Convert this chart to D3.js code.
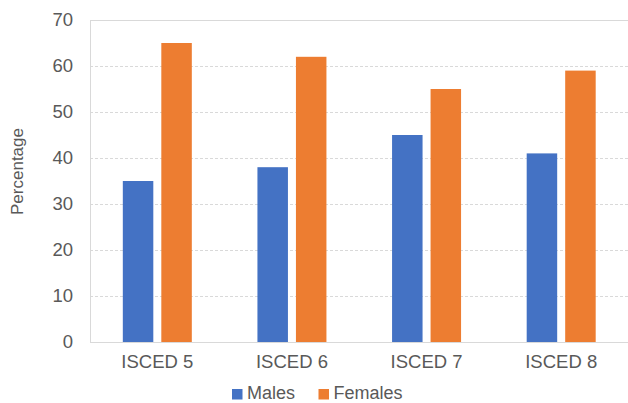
<!DOCTYPE html>
<html>
<head>
<meta charset="utf-8">
<script src="https://cdn.jsdelivr.net/npm/d3@7"></script>
<style>
  html, body { margin: 0; padding: 0; background: #fff; }
  svg { display: block; font-family: "Liberation Sans", Arial, sans-serif; }
</style>
</head>
<body>
<svg id="chart" width="628" height="403"></svg>
<script>
// Share of tertiary graduates by sex and ISCED level
const categories = ["ISCED 5", "ISCED 6", "ISCED 7", "ISCED 8"];
const seriesNames = ["Males", "Females"];
const males = [35, 38, 45, 41];
const females = [65, 62, 55, 59];
const yTicks = [0, 10, 20, 30, 40, 50, 60, 70];
const colors = ["#4472C4", "#ED7D31"];

const seriesValues = [males, females];

const svg = d3.select("#chart");
const plot = { left: 90, right: 628.5, top: 20, bottom: 342 };

const x0 = d3.scaleBand().domain(categories).range([plot.left, plot.right]).padding(0);
const groupWidth = 69;
const x1 = d3.scaleBand().domain(seriesNames).range([0, groupWidth]).paddingInner(0.208).paddingOuter(0);
const y = d3.scaleLinear().domain([0, 70]).range([plot.bottom, plot.top]);

// Horizontal gridlines (dashed), top one solid
svg.append("g")
  .selectAll("line")
  .data(yTicks.filter(d => d > 0))
  .join("line")
  .attr("x1", plot.left)
  .attr("x2", 628)
  .attr("y1", d => Math.round(y(d)) + 0.5)
  .attr("y2", d => Math.round(y(d)) + 0.5)
  .attr("stroke", "#d9d9d9")
  .attr("stroke-width", 1)
  .attr("stroke-dasharray", d => d === 70 ? null : "3,2");

// Y axis
const yAxis = d3.axisLeft(y).tickValues(yTicks).tickSize(0).tickPadding(17);
const gy = svg.append("g").attr("transform", `translate(${plot.left},0)`).call(yAxis);
gy.select(".domain").attr("stroke", "#d9d9d9").attr("d", `M0.5,${plot.top}V${plot.bottom + 0.5}`);
gy.selectAll("text")
  .attr("font-size", "18.5px")
  .attr("fill", "#595959")
  .attr("font-family", "Liberation Sans, Arial, sans-serif");

// Bars
const groups = svg.append("g")
  .selectAll("g")
  .data(categories)
  .join("g")
  .attr("transform", c => `translate(${x0(c) + (x0.bandwidth() - groupWidth) / 2},0)`);

groups.selectAll("rect")
  .data((c, i) => seriesNames.map((s, j) => ({ s, j, v: seriesValues[j][i] })))
  .join("rect")
  .attr("x", d => x1(d.s))
  .attr("width", x1.bandwidth())
  .attr("y", d => y(d.v))
  .attr("height", d => y(0) - y(d.v))
  .attr("fill", d => colors[d.j]);

// X axis
const xAxis = d3.axisBottom(x0).tickSize(0).tickPadding(13);
const gx = svg.append("g").attr("transform", `translate(0,${plot.bottom})`).call(xAxis);
gx.select(".domain").attr("stroke", "#d9d9d9").attr("d", `M${plot.left},0.5H628`);
gx.selectAll("text")
  .attr("font-size", "18.5px")
  .attr("fill", "#595959")
  .attr("font-family", "Liberation Sans, Arial, sans-serif");

// Y axis title
svg.append("text")
  .attr("transform", "translate(23,171.5) rotate(-90)")
  .attr("text-anchor", "middle")
  .attr("font-size", "17px")
  .attr("fill", "#595959")
  .text("Percentage");

// Legend
const legendItems = [
  { name: seriesNames[0], color: colors[0], x: 232 },
  { name: seriesNames[1], color: colors[1], x: 318.5 }
];
const lg = svg.append("g").selectAll("g").data(legendItems).join("g")
  .attr("transform", d => `translate(${d.x},0)`);
lg.append("rect")
  .attr("x", 0).attr("y", 389)
  .attr("width", 10.5).attr("height", 10.5)
  .attr("fill", d => d.color);
lg.append("text")
  .attr("x", 15).attr("y", 399)
  .attr("font-size", "18px")
  .attr("fill", "#595959")
  .text(d => d.name);
</script>
</body>
</html>
